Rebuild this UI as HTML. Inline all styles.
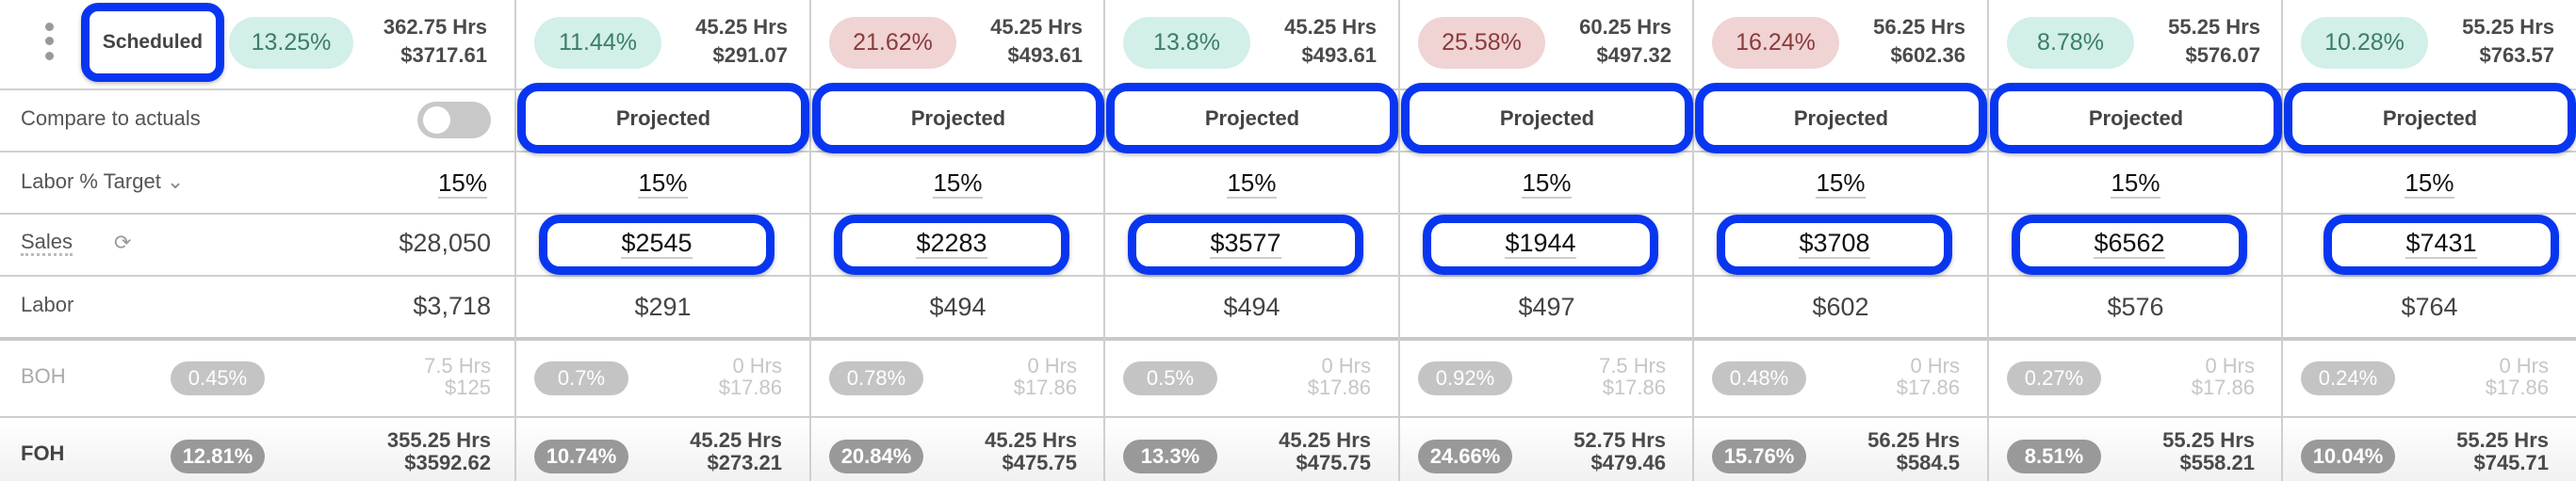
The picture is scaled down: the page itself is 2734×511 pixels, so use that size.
<!DOCTYPE html>
<html><head><meta charset="utf-8"><style>
*{margin:0;padding:0;box-sizing:border-box}
body{width:2734px;height:511px;background:#fff;position:relative;overflow:hidden;font-family:"Liberation Sans",sans-serif;color:#444}
.h{position:absolute;left:0;width:2734px;height:2px;background:#cfcfcf}
.v{position:absolute;top:0;height:511px;width:2px;background:#cfcfcf}
.foh{position:absolute;left:0;top:444px;width:2734px;height:67px;background:linear-gradient(#fff,#f1f1f1)}
.col{position:absolute;top:0;width:313px;height:511px}
.pill{position:absolute;left:20px;top:18px;width:135px;height:55px;border-radius:28px;font-size:25px;text-align:center;line-height:55px}
.g{background:#d2efe9;color:#3b7d6a}
.r{background:#f0d3d3;color:#8a3b3b}
.hr{position:absolute;right:24px;top:14px;text-align:right;font-size:22px;font-weight:bold;color:#4a4a4a;line-height:30px}
.proj{position:absolute;left:2px;top:88px;width:310px;height:75px;border:9px solid #0836f0;border-radius:22px;background:#fff;text-align:center;font-size:22px;font-weight:bold;color:#444;line-height:57px;box-shadow:0 2px 4px rgba(0,0,0,.25)}
.tg{position:absolute;left:0;width:313px;top:179px;text-align:center;font-size:26px;color:#111}
.tg span,.sv span{border-bottom:2px solid #ccc}
.sb{position:absolute;left:25px;top:228px;width:250px;height:64px;border:9px solid #0836f0;border-radius:22px;background:#fff;box-shadow:0 2px 4px rgba(0,0,0,.25)}
.sv{position:absolute;left:0;width:300px;top:243px;text-align:center;font-size:27px;color:#111}
.lb{position:absolute;left:0;width:313px;top:311px;text-align:center;font-size:27px;color:#444}
.bp{position:absolute;left:20px;top:384px;width:100px;height:36px;border-radius:18px;background:#c4c4c4;color:#fff;font-size:22px;text-align:center;line-height:36px}
.fp{position:absolute;left:20px;top:467px;width:100px;height:36px;border-radius:18px;background:#999;color:#fff;font-size:22px;text-align:center;line-height:36px;font-weight:bold}
.bt{position:absolute;right:30px;top:377px;text-align:right;font-size:22px;color:#c6c6c6;line-height:23px}
.ft{position:absolute;right:30px;top:456px;text-align:right;font-size:22px;color:#4a4a4a;font-weight:bold;line-height:24px}
.lab{position:absolute;left:22px;font-size:22px;color:#555}
</style></head><body>
<div class="foh"></div>
<div class="h" style="top:94px"></div>
<div class="h" style="top:160px"></div>
<div class="h" style="top:226px"></div>
<div class="h" style="top:292px"></div>
<div class="h" style="top:358px;height:4px;background:#c8c8c8"></div>
<div class="h" style="top:442px"></div>
<div class="v" style="left:546px"></div>
<div class="v" style="left:859px"></div>
<div class="v" style="left:1171px"></div>
<div class="v" style="left:1484px"></div>
<div class="v" style="left:1796px"></div>
<div class="v" style="left:2109px"></div>
<div class="v" style="left:2421px"></div>

<div style="position:absolute;left:48px;top:24px;width:9px;height:9px;border-radius:50%;background:#999"></div>
<div style="position:absolute;left:48px;top:39px;width:9px;height:9px;border-radius:50%;background:#999"></div>
<div style="position:absolute;left:48px;top:55px;width:9px;height:9px;border-radius:50%;background:#999"></div>
<div style="position:absolute;left:86px;top:3px;width:152px;height:84px;border:9px solid #0836f0;border-radius:18px;background:#fff;text-align:center;line-height:66px;font-size:21px;font-weight:bold;color:#444;box-shadow:0 2px 4px rgba(0,0,0,.25)">Scheduled</div>
<div class="pill g" style="left:243px;width:132px">13.25%</div>
<div class="hr" style="right:auto;left:360px;width:157px">362.75 Hrs<br>$3717.61</div>
<div class="lab" style="top:113px">Compare to actuals</div>
<div style="position:absolute;left:443px;top:108px;width:78px;height:39px;border-radius:20px;background:#c8c8c8"></div>
<div style="position:absolute;left:449px;top:113px;width:29px;height:29px;border-radius:50%;background:#fff"></div>
<div class="lab" style="top:180px">Labor % Target <span style="color:#888">&#8964;</span></div>
<div style="position:absolute;left:440px;width:77px;top:179px;text-align:right;font-size:26px;color:#111"><span style="border-bottom:2px solid #ccc">15%</span></div>
<div class="lab" style="top:245px;border-bottom:3px dotted #bbb;line-height:24px">Sales</div>
<div style="position:absolute;left:121px;top:245px;font-size:22px;color:#999">&#10227;</div>
<div style="position:absolute;left:321px;width:200px;top:243px;text-align:right;font-size:27px;color:#444">$28,050</div>
<div class="lab" style="top:311px">Labor</div>
<div style="position:absolute;left:321px;width:200px;top:310px;text-align:right;font-size:27px;color:#444">$3,718</div>
<div class="lab" style="top:387px;color:#aaa">BOH</div>
<div class="bp" style="left:181px">0.45%</div>
<div class="bt" style="right:auto;left:400px;width:121px">7.5 Hrs<br>$125</div>
<div class="lab" style="top:469px;font-weight:bold;color:#444">FOH</div>
<div class="fp" style="left:181px">12.81%</div>
<div class="ft" style="right:auto;left:340px;width:181px">355.25 Hrs<br>$3592.62</div>

<div class="col" style="left:547px">
<div class="pill g">11.44%</div><div class="hr">45.25 Hrs<br>$291.07</div>
<div class="proj">Projected</div>
<div class="tg"><span>15%</span></div>
<div class="sb"></div><div class="sv"><span>$2545</span></div>
<div class="lb">$291</div>
<div class="bp">0.7%</div><div class="bt">0 Hrs<br>$17.86</div>
<div class="fp">10.74%</div><div class="ft">45.25 Hrs<br>$273.21</div>
</div>
<div class="col" style="left:860px">
<div class="pill r">21.62%</div><div class="hr">45.25 Hrs<br>$493.61</div>
<div class="proj">Projected</div>
<div class="tg"><span>15%</span></div>
<div class="sb"></div><div class="sv"><span>$2283</span></div>
<div class="lb">$494</div>
<div class="bp">0.78%</div><div class="bt">0 Hrs<br>$17.86</div>
<div class="fp">20.84%</div><div class="ft">45.25 Hrs<br>$475.75</div>
</div>
<div class="col" style="left:1172px">
<div class="pill g">13.8%</div><div class="hr">45.25 Hrs<br>$493.61</div>
<div class="proj">Projected</div>
<div class="tg"><span>15%</span></div>
<div class="sb"></div><div class="sv"><span>$3577</span></div>
<div class="lb">$494</div>
<div class="bp">0.5%</div><div class="bt">0 Hrs<br>$17.86</div>
<div class="fp">13.3%</div><div class="ft">45.25 Hrs<br>$475.75</div>
</div>
<div class="col" style="left:1485px">
<div class="pill r">25.58%</div><div class="hr">60.25 Hrs<br>$497.32</div>
<div class="proj">Projected</div>
<div class="tg"><span>15%</span></div>
<div class="sb"></div><div class="sv"><span>$1944</span></div>
<div class="lb">$497</div>
<div class="bp">0.92%</div><div class="bt">7.5 Hrs<br>$17.86</div>
<div class="fp">24.66%</div><div class="ft">52.75 Hrs<br>$479.46</div>
</div>
<div class="col" style="left:1797px">
<div class="pill r">16.24%</div><div class="hr">56.25 Hrs<br>$602.36</div>
<div class="proj">Projected</div>
<div class="tg"><span>15%</span></div>
<div class="sb"></div><div class="sv"><span>$3708</span></div>
<div class="lb">$602</div>
<div class="bp">0.48%</div><div class="bt">0 Hrs<br>$17.86</div>
<div class="fp">15.76%</div><div class="ft">56.25 Hrs<br>$584.5</div>
</div>
<div class="col" style="left:2110px">
<div class="pill g">8.78%</div><div class="hr">55.25 Hrs<br>$576.07</div>
<div class="proj">Projected</div>
<div class="tg"><span>15%</span></div>
<div class="sb"></div><div class="sv"><span>$6562</span></div>
<div class="lb">$576</div>
<div class="bp">0.27%</div><div class="bt">0 Hrs<br>$17.86</div>
<div class="fp">8.51%</div><div class="ft">55.25 Hrs<br>$558.21</div>
</div>
<div class="col" style="left:2422px">
<div class="pill g">10.28%</div><div class="hr">55.25 Hrs<br>$763.57</div>
<div class="proj">Projected</div>
<div class="tg"><span>15%</span></div>
<div class="sb" style="left:44px"></div><div class="sv" style="left:19px"><span>$7431</span></div>
<div class="lb">$764</div>
<div class="bp">0.24%</div><div class="bt">0 Hrs<br>$17.86</div>
<div class="fp">10.04%</div><div class="ft">55.25 Hrs<br>$745.71</div>
</div>
</body></html>
